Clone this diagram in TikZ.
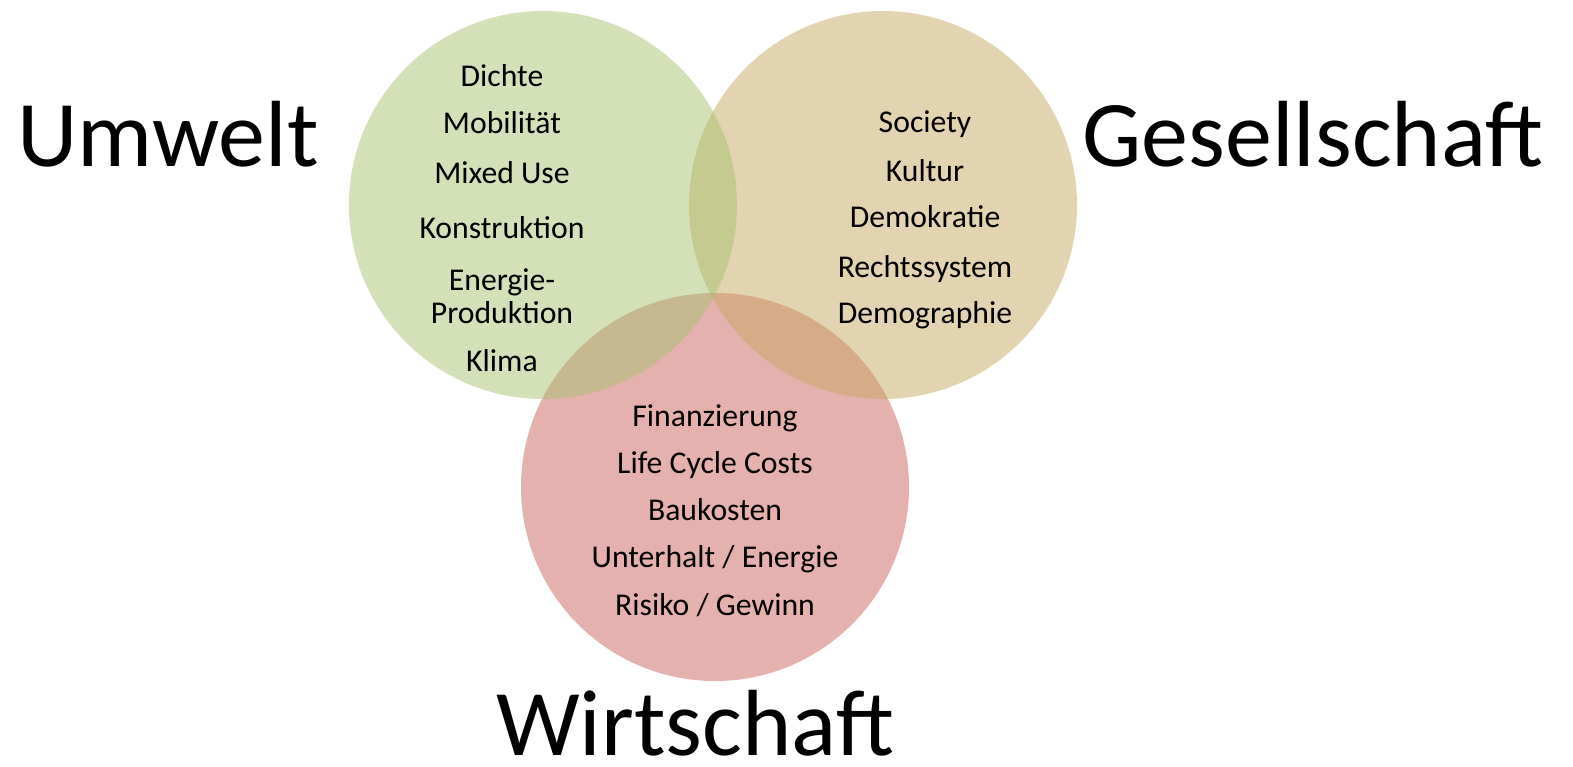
\documentclass[tikz,border=0pt]{standalone}
\usepackage{fontspec}
\setmainfont{Carlito}
\definecolor{umweltgreen}{RGB}{167,193,113}
\definecolor{gesellschafttan}{RGB}{197,169,97}
\definecolor{wirtschaftred}{RGB}{203,99,93}
\begin{document}
\begin{tikzpicture}[x=1pt,y=-1pt,
  sphere/.style={fill=#1,fill opacity=0.5,draw=none},
  item/.style={anchor=base,inner sep=0pt,font=\fontsize{31.7}{34}\selectfont},
  title/.style={anchor=base,inner sep=0pt,font=\fontsize{94}{100}\selectfont}]
\useasboundingbox (0,0) rectangle (1573,767);
% the three spheres, lowest first
\fill[sphere=wirtschaftred] (715,487) circle[radius=194];
\fill[sphere=gesellschafttan] (883,205) circle[radius=194];
\fill[sphere=umweltgreen] (543,205) circle[radius=194];
% Umwelt
\node[item] (u1) at (502,87) {Dichte};
\node[item] (u2) at (502,134) {Mobilität};
\node[item] (u3) at (502,184) {Mixed Use};
\node[item] (u4) at (502,239) {Konstruktion};
\node[item] (u5) at (502,290) {Energie-};
\node[item] (u6) at (502,323) {Produktion};
\node[item] (u7) at (502,371) {Klima};
% Gesellschaft
\node[item] (g1) at (925,133) {Society};
\node[item] (g2) at (925,182) {Kultur};
\node[item] (g3) at (925,228) {Demokratie};
\node[item] (g4) at (925,277) {Rechtssystem};
\node[item] (g5) at (925,323) {Demographie};
% Wirtschaft
\node[item] (w1) at (715,426) {Finanzierung};
\node[item] (w2) at (715,473) {Life Cycle Costs};
\node[item] (w3) at (715,520) {Baukosten};
\node[item] (w4) at (715,567) {Unterhalt / Energie};
\node[item] (w5) at (715,615) {Risiko / Gewinn};
% headings
\node[title] (tu) at (168,167) {Umwelt};
\node[title] (tg) at (1313,167) {Gesellschaft};
\node[title] (tw) at (695,755) {Wirtschaft};
\end{tikzpicture}
\end{document}
